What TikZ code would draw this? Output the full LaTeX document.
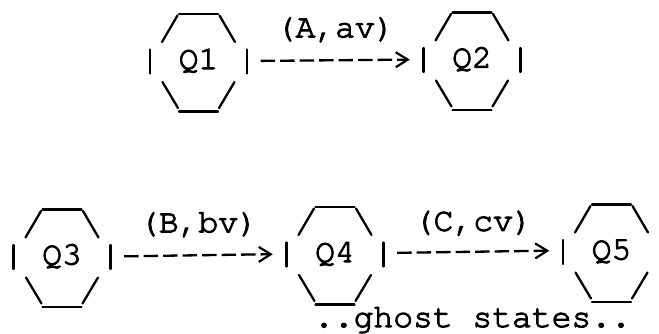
\documentclass[tikz,border=0pt]{standalone}
\usepackage{fontspec}
\usetikzlibrary{arrows.meta}
\newfontfamily\asciifont{TeX Gyre Cursor}[FakeBold=3]
\tikzset{
  ink/.style={line width=2.3pt, line cap=round, black},
  state/.style={minimum width=97pt, minimum height=98pt, inner sep=0pt,
    text height=12pt, text depth=0pt,
    font=\asciifont\fontsize{33}{33}\selectfont},
  lbl/.style={inner sep=0pt, font=\asciifont\fontsize{33}{33}\selectfont},
  trans/.style={ink, line cap=butt, dash pattern=on 14.5pt off 5pt,
    -{Straight Barb[length=12pt,width=15pt,line width=2.2pt]},
    shorten <=13.5pt, shorten >=13.5pt},
}
\begin{document}
\begin{tikzpicture}[x=1pt,y=-1pt]
\useasboundingbox (0,0) rectangle (659,333);
\node[state] (q1) at (198.5,63) {Q1};
\node[state] (q2) at (472,61.5) {Q2};
\node[state] (q3) at (62,258.5) {Q3};
\node[state] (q4) at (335,256) {Q4};
\node[state] (q5) at (611.5,253.5) {Q5};
\foreach \n in {q1,q2,q3,q4,q5}{
  \draw[ink] ([shift={(-19.5,-49)}]\n.center) -- ([shift={(19.5,-49)}]\n.center);
  \draw[ink] ([shift={(-36.5,-21)}]\n.center) -- ([shift={(-21,-47.5)}]\n.center);
  \draw[ink] ([shift={(21,-47.5)}]\n.center) -- ([shift={(36.5,-21)}]\n.center);
  \draw[ink] ([shift={(-48.5,-13.5)}]\n.center) -- ([shift={(-48.5,10.5)}]\n.center);
  \draw[ink] ([shift={(-36,19)}]\n.center) -- ([shift={(-20.5,45)}]\n.center);
  \draw[ink] ([shift={(-19.5,48.5)}]\n.center) -- ([shift={(19.5,48.5)}]\n.center);
  \draw[ink] ([shift={(36,19)}]\n.center) -- ([shift={(20.5,45)}]\n.center);
}
\foreach \n in {q1,q2,q3,q4}{
  \draw[ink] ([shift={(48.5,-13.5)}]\n.center) -- ([shift={(48.5,10.5)}]\n.center);
}
\draw[trans] ([yshift=2pt]q1.east) -- node[lbl, anchor=base, yshift=23pt] {(A,av)} ([yshift=2pt]q2.west);
\draw[trans] ([yshift=2pt]q3.east) -- node[lbl, anchor=base, yshift=23pt] {(B,bv)} ([yshift=2pt]q4.west);
\draw[trans] ([yshift=3pt]q4.east) -- node[lbl, anchor=base, yshift=21pt] {(C,cv)} ([yshift=3pt]q5.west);
\node[lbl, anchor=base] (ghost) at (472.5,327) {..ghost states..};
\end{tikzpicture}
\end{document}
